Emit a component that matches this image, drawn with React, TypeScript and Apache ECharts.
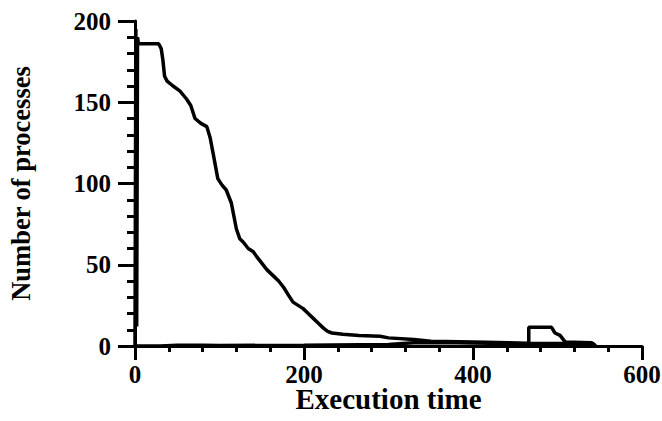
import React, { useEffect, useRef } from "react";
import * as echarts from "echarts";

const mainTime = [0, 1, 2, 3, 4, 28, 31, 33, 35, 38, 45, 53, 61, 66, 71, 78, 85, 89, 93, 98, 103, 108, 114, 117, 120, 124, 128, 134, 140, 144, 150, 156, 164, 170, 176, 182, 187, 193, 199, 205, 211, 217, 223, 228, 233, 246, 265, 290, 300, 330, 350, 400, 443, 466, 510, 542, 545];
const mainCount = [0, 195, 12, 190, 186, 186, 183, 176, 166, 163, 160, 157, 152, 148, 140, 137, 135, 128, 117, 103, 99, 96, 88, 80, 72, 66, 64, 60, 58, 55, 51, 47, 43, 40, 36, 31, 27, 25, 23, 20, 17, 14, 11, 9, 8, 7.2, 6.5, 6, 5, 4, 3, 2.5, 2, 1.5, 1.5, 1.5, 0];

const lowTime = [0, 30, 50, 80, 100, 200, 300, 330, 380, 440, 466, 466, 493, 497, 503, 509, 540, 545];
const lowCount = [0, 0, 0.5, 0.5, 0.3, 0.5, 1, 2, 2, 1.5, 1.5, 11.5, 11.5, 8, 6.5, 2.5, 2, 0];

const xTicks = [0, 200, 400, 600];
const yTicks = [0, 50, 100, 150, 200];

const FONT = "Liberation Serif";

export default function App() {
  const ref = useRef<HTMLDivElement>(null);
  useEffect(() => {
    const chart = echarts.init(ref.current!, undefined, { renderer: "svg" });
    const zip = (a: number[], b: number[]) => a.map((v, i) => [v, b[i]]);
    chart.setOption({
      animation: false,
      backgroundColor: "#ffffff",
      grid: { left: 135, right: 20, top: 21, bottom: 75, outerBoundsMode: "none", containLabel: false },
      xAxis: {
        type: "value",
        min: xTicks[0],
        max: xTicks[xTicks.length - 1],
        interval: 200,
        name: "Execution time",
        nameLocation: "middle",
        nameGap: 40,
        nameMoveOverlap: false,
        nameTextStyle: { fontFamily: FONT, fontWeight: "bold", fontSize: 29, lineHeight: 26, color: "#000" },
        axisLine: { lineStyle: { color: "#000", width: 3 } },
        axisTick: { length: 14, lineStyle: { color: "#000", width: 3 } },
        minorTick: { show: true, splitNumber: 5, length: 6, lineStyle: { color: "#000", width: 3 } },
        splitLine: { show: false },
        axisLabel: { margin: 17, fontFamily: FONT, fontWeight: "bold", fontSize: 25, lineHeight: 22, color: "#000" },
      },
      yAxis: {
        type: "value",
        min: yTicks[0],
        max: yTicks[yTicks.length - 1],
        interval: 50,
        name: "Number of processes",
        nameLocation: "middle",
        nameGap: 101,
        nameMoveOverlap: false,
        nameTextStyle: { fontFamily: FONT, fontWeight: "bold", fontSize: 26.5, color: "#000" },
        axisLine: { lineStyle: { color: "#000", width: 3 } },
        axisTick: { length: 17, lineStyle: { color: "#000", width: 3 } },
        minorTick: { show: true, splitNumber: 5, length: 8, lineStyle: { color: "#000", width: 3 } },
        splitLine: { show: false },
        axisLabel: { margin: 24, fontFamily: FONT, fontWeight: "bold", fontSize: 25, color: "#000" },
      },
      series: [
        {
          type: "line",
          data: zip(mainTime, mainCount),
          symbol: "none",
          lineStyle: { color: "#000", width: 3.5 },
        },
        {
          type: "line",
          data: zip(lowTime, lowCount),
          symbol: "none",
          lineStyle: { color: "#000", width: 3.5 },
        },
      ],
    });
    return () => chart.dispose();
  }, []);
  return (
    <div
      ref={ref}
      style={{ position: "absolute", left: 0, top: 0, width: 662, height: 421, background: "#fff" }}
    />
  );
}
